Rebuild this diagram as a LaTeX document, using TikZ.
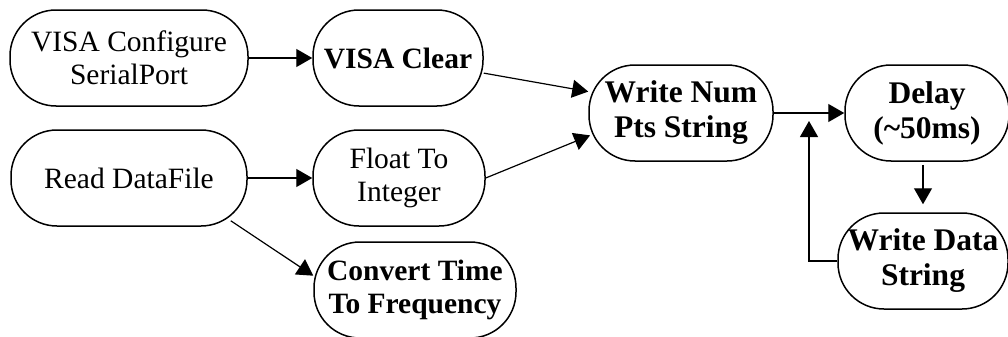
\documentclass[tikz,border=0pt]{standalone}
\usepackage{fontspec}
\setmainfont{Liberation Serif}
\usetikzlibrary{arrows.meta}
\begin{document}
\begin{tikzpicture}[x=0.5pt,y=-0.5pt]
		\tikzstyle{block}=[draw,rectangle,rounded corners=23pt,line width=0.75pt,minimum height=48pt,inner sep=0pt,align=center,font=\fontsize{14.75}{16.5}\selectfont]
		\tikzstyle{bblock}=[block,font=\fontsize{14.75}{16.5}\selectfont\bfseries]
		\tikzstyle{big}=[font=\fontsize{15.75}{17.5}\selectfont\bfseries]
		\tikzstyle{arr}=[-{Triangle[length=8pt,width=9pt]},line width=0.6pt,rounded corners=0pt]
		\useasboundingbox (0,0) rectangle (1008,337);

		\draw (129,58) node[block,minimum width=119pt] (cfg) {VISA Configure\\SerialPort};
		\draw (398,58) node[bblock,minimum width=85pt] (clr) {VISA Clear};
		\draw (129,178) node[block,minimum width=118pt] (rd) {Read DataFile};
		\draw (399,178) node[block,minimum width=86pt] (flt) {Float To\\Integer};
		\draw (415,290) node[bblock,minimum width=101pt] (cvt) {Convert Time\\To Frequency};
		\draw (681,113) node[bblock,big,minimum width=92pt] (wnp) {Write Num\\Pts String};
		\draw (927,113) node[bblock,big,minimum width=82pt] (dly) {Delay\\(\textasciitilde50ms)};
		\draw (923,261) node[bblock,big,minimum width=85pt] (wds) {Write Data\\String};

		\draw[arr] (cfg) -- (clr);
		\draw[arr] (rd) -- (flt);
		\draw[arr] (clr.-10) -- (wnp.167);
		\draw[arr,shorten >=-1pt] (flt.east) -- (wnp.194);
		\draw[arr] ([xshift=-8.5pt,yshift=3pt]rd.south east) -- (cvt.172);
		\draw[arr] (wnp) -- coordinate[midway] (j) (dly);
		\draw[arr,shorten <=1.5pt,shorten >=4pt] (wds.north |- dly.south) -- (wds.north);
		\draw[arr,shorten >=4pt] (wds.west) -| (j);
	\end{tikzpicture}
\end{document}
